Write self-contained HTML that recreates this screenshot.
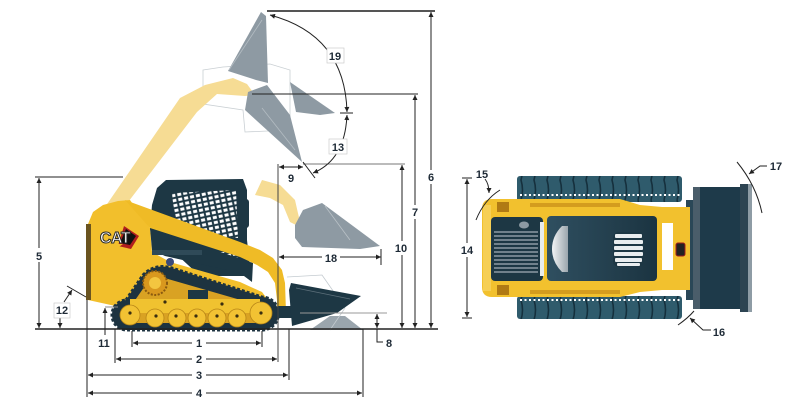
<!DOCTYPE html>
<html><head><meta charset="utf-8"><style>
html,body{margin:0;padding:0;background:#fff;}
svg{display:block;}
text{font-family:"Liberation Sans",Arial,sans-serif;font-weight:bold;font-size:11px;fill:#1e2a36;text-anchor:middle;}
</style></head><body>
<svg width="799" height="409" viewBox="0 0 799 409" xmlns="http://www.w3.org/2000/svg">
<defs>
 <marker id="ar" viewBox="0 0 10 10" refX="10" refY="5" markerWidth="7" markerHeight="5" markerUnits="userSpaceOnUse" orient="auto-start-reverse"><path d="M0,0 L10,5 L0,10 z" fill="#222"/></marker>
 <pattern id="mesh" width="6" height="5" patternUnits="userSpaceOnUse" patternTransform="rotate(-12)"><rect width="6" height="5" fill="#1d3744"/><rect x="0.9" y="0.9" width="4" height="3" fill="#fff"/></pattern>
 <pattern id="tread" width="13" height="40" patternUnits="userSpaceOnUse"><rect width="13" height="40" fill="#2f5b6c"/><path d="M1,0 Q4,10 1,20 Q4,30 1,40" stroke="#15303d" stroke-width="1.6" fill="none"/></pattern>
 <linearGradient id="cabg" x1="0" y1="0" x2="1" y2="0"><stop offset="0" stop-color="#2f4f60"/><stop offset="1" stop-color="#1b3441"/></linearGradient>
 <linearGradient id="ws" x1="0" y1="0" x2="1" y2="0"><stop offset="0" stop-color="#f2f4f5"/><stop offset="1" stop-color="#9aa6ad"/></linearGradient>
</defs>

<!-- ===== ghost positions (behind) ===== -->
<polygon points="203,70 223,67 270,64 290,70 290,130 245,132 243,110 203,104" fill="none" stroke="#c9cfd3" stroke-width="0.8"/>
<polygon points="103,210 180,98 205,85 233,78 247,84 255,95 245,96 217,94 197,112 122,210" fill="#f6dc94"/>
<polygon points="261,12 266,16 268,83 256,80 228,71" fill="#8e9aa3"/>
<polygon points="248,92 267,85 290,115 302,162 245,110" fill="#8e9aa3"/>
<polygon points="290,82 335,113 320,115 296,112" fill="#8e9aa3"/>
<line x1="229" y1="70" x2="262" y2="20" stroke="#b3bcc2" stroke-width="0.8"/>
<line x1="262" y1="108" x2="295" y2="150" stroke="#b3bcc2" stroke-width="0.8"/>
<polygon points="255,195 262,180 280,185 295,200 300,222 296,225 290,222 283,205 270,198" fill="#f6dc94"/>
<polygon points="295,225 303,210 322,203 380,246 360,249 302,247 295,238" fill="#8e9aa3"/>
<line x1="325" y1="206" x2="350" y2="240" stroke="#b9c1c6" stroke-width="0.8"/>
<polygon points="310,330 330,316 345,316 363,330" fill="#9aa5ad"/>
<polyline points="287,277 322,275 345,308 330,330" fill="none" stroke="#c4cbd0" stroke-width="0.8"/>

<!-- ===== machine side view ===== -->
<polygon points="152,205 157,188 166,180 243,179 247,190 247,240 251,276 200,276 150,230" fill="#1d3744"/>
<polygon points="172,193 236,190 238,238 176,233" fill="url(#mesh)"/>
<polygon points="192,252 236,252 240,266 200,262" fill="url(#mesh)"/>
<rect x="242" y="200" width="6" height="27" rx="2" fill="none" stroke="#1d3744" stroke-width="2"/>
<polygon points="88,224 93,212 103,205 118,201 130,200 150,228 152,252 170,262 240,282 262,292 268,300 262,307 120,307 88,300" fill="#f2bf2c"/>
<rect x="86" y="224" width="5" height="76" fill="#6a5420"/>
<polygon points="150,228 253,263 252,282 240,273 165,256 152,250" fill="#1d3744"/>
<rect x="152" y="250" width="50" height="5" fill="#2f4a58"/>
<circle cx="170" cy="262" r="4" fill="#3a4a7a"/>
<polygon points="125,200 240,242 260,250 273,258 282,270 285,283 286,312 277,312 277,300 275,283 268,272 257,265 240,257 150,228" fill="#efbb26"/>
<path d="M126,300 L143,275 Q155,263 172,268 L262,297 A16.5,16.5 0 0 1 262,330 L128,330 A15,15 0 0 1 126,300 Z" fill="#1d3340"/>
<path d="M126,300 L143,275 Q155,263 172,268 L262,297 A16.5,16.5 0 0 1 262,330 L128,330 A15,15 0 0 1 126,300 Z" fill="none" stroke="#1d3340" stroke-width="3" stroke-dasharray="3,2"/>
<path d="M131,306 L147,283 Q155,276 168,279 L258,305 A9,9 0 0 1 260,323 L130,323 A8.5,8.5 0 0 1 131,306 Z" fill="#d9a223"/>
<rect x="130" y="299" width="130" height="14" fill="#f0c230"/>
<rect x="188" y="290" width="20" height="9" fill="#1d3744"/>
<g fill="#f2c233" stroke="#b78517" stroke-width="0.8">
<circle cx="130" cy="315" r="10"/><circle cx="155" cy="318" r="9"/><circle cx="177" cy="318" r="9"/><circle cx="197" cy="318" r="9"/><circle cx="217" cy="318" r="9"/><circle cx="237" cy="318" r="9"/><circle cx="261" cy="313" r="11"/>
</g>
<g fill="#3a2e10"><circle cx="130" cy="313" r="1.6"/><circle cx="156" cy="316" r="1.6"/><circle cx="176" cy="316" r="1.6"/><circle cx="196" cy="316" r="1.6"/><circle cx="217" cy="316" r="1.6"/><circle cx="237" cy="316" r="1.6"/><circle cx="261" cy="313" r="1.6"/><circle cx="165" cy="302" r="1.6"/><circle cx="222" cy="304" r="1.6"/></g>
<circle cx="155" cy="283" r="12" fill="#d9981e" stroke="#8a5a10" stroke-width="2" stroke-dasharray="2,1.5"/>
<circle cx="155" cy="283" r="6" fill="#f3c640"/>
<!-- CAT logo -->
<polygon points="124,226 139,236 131,249 118,246" fill="#b01e1e"/>
<polygon points="126,229 136,236 130,245 120,243" fill="#111"/>
<text x="115" y="243" style="font-size:16px;fill:#fff;stroke:#2a2a2a;stroke-width:1;letter-spacing:-0.5px">CAT</text>
<polygon points="109,244 123,244 116,249" fill="#f2bf2c"/>
<!-- front bucket -->
<polygon points="278,306 292,306 292,318 278,318" fill="#1d3744"/>
<polygon points="291,283 361,296 337,313 292,326 289,290" fill="#1d3744"/>
<line x1="296" y1="288" x2="350" y2="299" stroke="#5c6f7a" stroke-width="0.8"/>

<!-- ===== dimension lines side ===== -->
<g stroke="#222" stroke-width="1" fill="none">
<line x1="35" y1="329" x2="438" y2="329" stroke-width="1.4"/>
<line x1="35" y1="177" x2="123" y2="177"/>
<line x1="39" y1="178" x2="39" y2="328" marker-start="url(#ar)" marker-end="url(#ar)"/>
<line x1="267" y1="11" x2="435" y2="11" stroke="#555" stroke-width="2"/>
<line x1="431" y1="12" x2="431" y2="328" marker-start="url(#ar)" marker-end="url(#ar)"/>
<line x1="252" y1="94" x2="418" y2="94"/>
<line x1="415" y1="95" x2="415" y2="328" marker-start="url(#ar)" marker-end="url(#ar)"/>
<line x1="303" y1="164" x2="405" y2="164" stroke="#777"/>
<line x1="402" y1="165" x2="402" y2="328" marker-start="url(#ar)" marker-end="url(#ar)"/>
<line x1="278" y1="164" x2="278" y2="362" stroke="#444"/>
<line x1="279" y1="167" x2="303" y2="167" marker-start="url(#ar)" marker-end="url(#ar)"/>
<line x1="303" y1="162" x2="315" y2="178"/>
<line x1="279" y1="257" x2="381" y2="257" marker-start="url(#ar)" marker-end="url(#ar)"/>
<line x1="381" y1="249" x2="381" y2="265"/>
<path d="M347,112 Q345,35 270,15" marker-start="url(#ar)" marker-end="url(#ar)"/>
<line x1="340" y1="113" x2="353" y2="113"/>
<path d="M347,115 Q345,160 313,173" marker-start="url(#ar)" marker-end="url(#ar)"/>
<line x1="132" y1="331" x2="132" y2="347"/><line x1="262" y1="331" x2="262" y2="347"/>
<line x1="133" y1="343" x2="261" y2="343" marker-start="url(#ar)" marker-end="url(#ar)"/>
<line x1="115" y1="329" x2="115" y2="363"/>
<line x1="116" y1="359" x2="277" y2="359" marker-start="url(#ar)" marker-end="url(#ar)"/>
<line x1="87" y1="300" x2="87" y2="397"/>
<line x1="289" y1="329" x2="289" y2="380"/>
<line x1="88" y1="375" x2="288" y2="375" marker-start="url(#ar)" marker-end="url(#ar)"/>
<line x1="363" y1="329" x2="363" y2="397"/>
<line x1="88" y1="393" x2="362" y2="393" marker-start="url(#ar)" marker-end="url(#ar)"/>
<line x1="300" y1="313" x2="387" y2="313" stroke="#999"/>
<line x1="377" y1="314" x2="377" y2="328" marker-start="url(#ar)" marker-end="url(#ar)"/>
<polyline points="377,329 377,342 383,342"/>
<line x1="105" y1="307" x2="118" y2="307" stroke="#888"/>
<line x1="105" y1="335" x2="105" y2="308" marker-end="url(#ar)"/>
<line x1="60" y1="318" x2="60" y2="328" marker-end="url(#ar)"/>
<line x1="64" y1="302" x2="72" y2="290" marker-end="url(#ar)"/>
<line x1="67" y1="286" x2="86" y2="297"/>
</g>
<rect x="327" y="48" width="17" height="15" fill="#fff" stroke="#ccc" stroke-width="0.7"/>
<text x="335" y="60">19</text>
<rect x="329" y="139" width="18" height="15" fill="#fff" stroke="#ccc" stroke-width="0.7"/>
<text x="338" y="151">13</text>
<rect x="54" y="303" width="16" height="15" fill="#fff" stroke="#ccc" stroke-width="0.7"/>
<text x="62" y="314">12</text>
<text x="291" y="182">9</text>
<rect x="33" y="248" width="12" height="14" fill="#fff"/><text x="39" y="260">5</text>
<rect x="425" y="170" width="12" height="14" fill="#fff"/><text x="431" y="181">6</text>
<rect x="409" y="205" width="12" height="14" fill="#fff"/><text x="415" y="216">7</text>
<rect x="393" y="241" width="16" height="14" fill="#fff"/><text x="401" y="252">10</text>
<rect x="322" y="251" width="18" height="12" fill="#fff"/><text x="331" y="262">18</text>
<rect x="192" y="337" width="14" height="12" fill="#fff"/><text x="199" y="347">1</text>
<rect x="192" y="353" width="14" height="12" fill="#fff"/><text x="199" y="363">2</text>
<rect x="192" y="369" width="14" height="12" fill="#fff"/><text x="199" y="379">3</text>
<rect x="192" y="387" width="14" height="12" fill="#fff"/><text x="199" y="397">4</text>
<text x="104" y="347">11</text>
<text x="389" y="347">8</text>

<!-- ===== top view ===== -->
<rect x="517" y="176" width="165" height="26" rx="3" fill="url(#tread)"/>
<rect x="517" y="296" width="165" height="23" rx="3" fill="url(#tread)"/>
<line x1="520" y1="195" x2="680" y2="195" stroke="#fff" stroke-width="2" stroke-dasharray="2,2.5"/>
<line x1="520" y1="300" x2="680" y2="300" stroke="#fff" stroke-width="2" stroke-dasharray="2,2.5"/>
<rect x="686" y="200" width="8" height="100" fill="#2a4757"/>
<path d="M492,199 L620,199 L640,205 L662,207 L690,207 L690,290 L662,290 L640,292 L620,297 L492,297 Q482,297 482,287 L482,209 Q482,199 492,199 Z" fill="#f2c12e"/>
<rect x="483" y="205" width="8" height="86" fill="#f6cf55"/>
<rect x="497" y="202" width="12" height="10" fill="#b07a14"/>
<rect x="497" y="285" width="12" height="10" fill="#b07a14"/>
<rect x="530" y="203" width="90" height="4" fill="#d49c1e"/>
<rect x="530" y="290" width="90" height="4" fill="#d49c1e"/>
<rect x="491" y="217" width="52" height="64" rx="4" fill="#1d3744"/>
<g stroke="#8d9aa3" stroke-width="1.6">
<line x1="494" y1="232" x2="538" y2="232"/><line x1="494" y1="236" x2="538" y2="236"/><line x1="494" y1="240" x2="538" y2="240"/><line x1="494" y1="244" x2="538" y2="244"/><line x1="494" y1="248" x2="538" y2="248"/><line x1="494" y1="252" x2="538" y2="252"/><line x1="494" y1="256" x2="538" y2="256"/><line x1="494" y1="260" x2="538" y2="260"/><line x1="494" y1="264" x2="538" y2="264"/><line x1="494" y1="268" x2="538" y2="268"/><line x1="494" y1="272" x2="538" y2="272"/>
</g>
<ellipse cx="524" cy="225" rx="5" ry="3.5" fill="#8d9aa3"/>
<rect x="540" y="222" width="4" height="54" fill="#e8ecee"/>
<rect x="547" y="216" width="110" height="65" rx="4" fill="url(#cabg)"/>
<path d="M562,226 Q552,236 552,249 Q552,262 562,272 L568,272 L568,226 Z" fill="url(#ws)"/>
<rect x="613" y="232" width="31" height="35" rx="6" fill="#1d3744"/>
<g fill="#e9edef">
<rect x="615" y="234" width="27" height="4" rx="1"/><rect x="614" y="240" width="29" height="4" rx="1"/><rect x="614" y="246" width="29" height="4" rx="1"/><rect x="614" y="252" width="29" height="4" rx="1"/><rect x="615" y="258" width="27" height="4" rx="1"/><rect x="617" y="263" width="23" height="3" rx="1"/>
</g>
<rect x="662" y="223" width="11" height="47" fill="#fff"/>
<rect x="676" y="243" width="9" height="13" rx="2" fill="#222" stroke="#a01e1e" stroke-width="1"/>
<rect x="693" y="187" width="47" height="122" fill="#1e3a4a"/>
<rect x="693" y="187" width="7" height="122" fill="#4a5d6a"/>
<rect x="740" y="184" width="8" height="128" fill="#2d4452"/>
<rect x="748" y="184" width="4" height="128" fill="#8e9ca5"/>
<g stroke="#222" stroke-width="1" fill="none">
<line x1="462" y1="178" x2="472" y2="178"/><line x1="462" y1="318" x2="472" y2="318"/>
<line x1="467" y1="179" x2="467" y2="317" marker-start="url(#ar)" marker-end="url(#ar)"/>
<path d="M476,220 Q484,200 500,190"/>
<path d="M485,179 Q489,184 489,193" marker-end="url(#ar)"/>
<path d="M737,162 Q756,185 762,213"/>
<path d="M767,166 L760,166 L749,174" marker-end="url(#ar)"/>
<path d="M678,325 Q688,318 694,311"/>
<path d="M711,330 L703,330 L690,318" marker-end="url(#ar)"/>
</g>
<rect x="459" y="243" width="16" height="14" fill="#fff"/><text x="467" y="254">14</text>
<text x="482" y="178">15</text>
<text x="776" y="170">17</text>
<text x="719" y="336">16</text>
</svg>
</body></html>
